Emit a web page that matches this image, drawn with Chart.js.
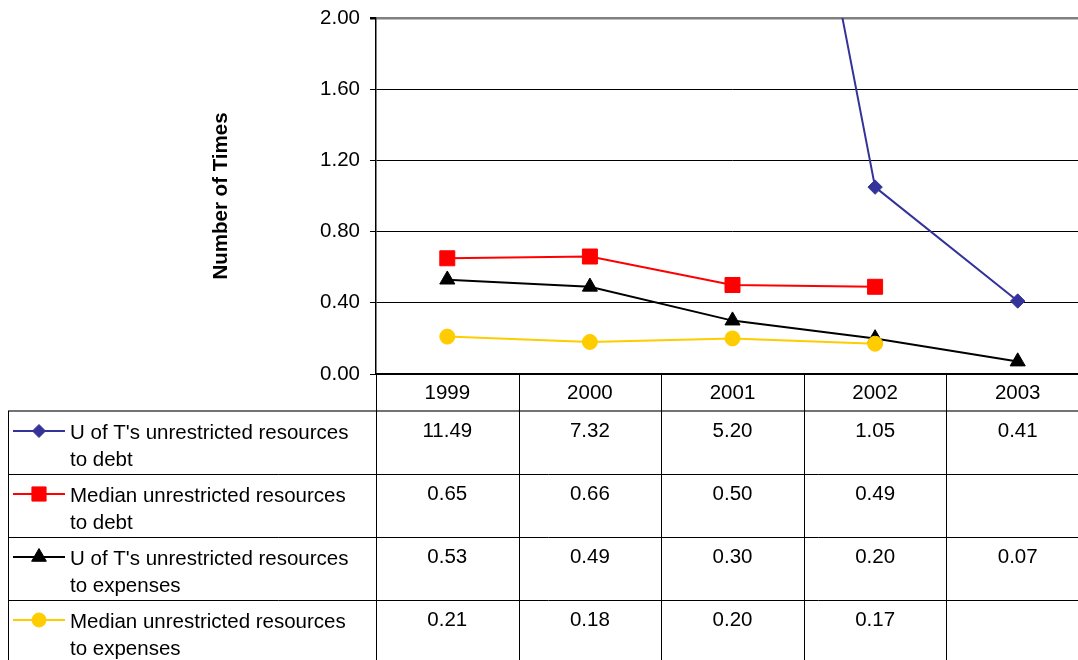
<!DOCTYPE html>
<html>
<head>
<meta charset="utf-8">
<script src="https://cdn.jsdelivr.net/npm/chart.js@4/dist/chart.umd.min.js"></script>
<style>
html, body { margin: 0; padding: 0; overflow: hidden; background: #fff; }
canvas { display: block; }
</style>
</head>
<body>
<canvas id="myChart" width="1089" height="660"></canvas>
<script>
var YEARS = ["1999", "2000", "2001", "2002", "2003"];
var UT_DEBT = [11.49, 7.32, 5.20, 1.05, 0.41];
var MEDIAN_DEBT = [0.65, 0.66, 0.50, 0.49, null];
var UT_EXPENSES = [0.53, 0.49, 0.30, 0.20, 0.07];
var MEDIAN_EXPENSES = [0.21, 0.18, 0.20, 0.17, null];
var Y_TICKS = [0, 0.4, 0.8, 1.2, 1.6, 2.0];

var NAMES = [
	["U of T's unrestricted resources", "to debt"],
	["Median unrestricted resources", "to debt"],
	["U of T's unrestricted resources", "to expenses"],
	["Median unrestricted resources", "to expenses"]
];

var FONT = '"Liberation Sans", Arial, sans-serif';
var FONT_SIZE = 20.5;

// table geometry (below the plot)
var HEAD_TOP = 374;
var ROW_TOP = 411;
var ROW_H = 63;
var TABLE_LEFT = 8;

function marker(ctx, style, radius, x, y) {
	if (Chart.helpers && Chart.helpers.drawPoint) {
		Chart.helpers.drawPoint(ctx, {pointStyle: style, radius: radius, borderWidth: 1, rotation: 0}, x, y);
	}
}

function noPadding(scale) {
	scale.paddingTop = 0;
	scale.paddingBottom = 0;
	scale.paddingLeft = 0;
	scale.paddingRight = 0;
}

var tablePlugin = {
	id: "dataTable",
	afterDraw: function (chart) {
		var ctx = chart.ctx;
		var area = chart.chartArea;
		var xs = chart.scales.x;
		var W = chart.width, H = chart.height;
		var half = (xs.getPixelForValue(1) - xs.getPixelForValue(0)) / 2;
		var sets = chart.data.datasets;
		var i, j;

		ctx.save();
		// horizontal rules
		ctx.strokeStyle = "#444";
		ctx.lineWidth = 1.5;
		ctx.beginPath();
		ctx.moveTo(TABLE_LEFT, ROW_TOP);
		ctx.lineTo(W, ROW_TOP);
		ctx.stroke();
		ctx.strokeStyle = "#000";
		ctx.lineWidth = 1;
		ctx.beginPath();
		for (i = 1; i < sets.length; i++) {
			var yy = Math.round(ROW_TOP + i * ROW_H) + 0.5;
			ctx.moveTo(TABLE_LEFT, yy);
			ctx.lineTo(W, yy);
		}
		// vertical rules
		ctx.moveTo(TABLE_LEFT + 0.5, ROW_TOP);
		ctx.lineTo(TABLE_LEFT + 0.5, H);
		ctx.moveTo(Math.round(area.left) + 0.5, HEAD_TOP);
		ctx.lineTo(Math.round(area.left) + 0.5, H);
		for (i = 0; i < YEARS.length; i++) {
			var ex = Math.round(xs.getPixelForValue(i) + half) + 0.5;
			ctx.moveTo(ex, HEAD_TOP);
			ctx.lineTo(ex, H);
		}
		ctx.stroke();

		// years
		ctx.fillStyle = "#000";
		ctx.font = FONT_SIZE + "px " + FONT;
		ctx.textAlign = "center";
		ctx.textBaseline = "alphabetic";
		for (i = 0; i < YEARS.length; i++) {
			ctx.fillText(chart.data.labels[i], xs.getPixelForValue(i), 399);
		}

		// rows
		for (j = 0; j < sets.length; j++) {
			var ds = sets[j];
			var top = ROW_TOP + j * ROW_H;
			ctx.textAlign = "center";
			ctx.fillStyle = "#000";
			for (i = 0; i < ds.data.length; i++) {
				if (ds.data[i] === null) continue;
				ctx.fillText(ds.data[i].toFixed(2), xs.getPixelForValue(i), top + 26);
			}
			ctx.textAlign = "left";
			ctx.fillText(NAMES[j][0], 70, top + 28);
			ctx.fillText(NAMES[j][1], 70, top + 55);

			// legend key
			ctx.strokeStyle = ds.borderColor;
			ctx.lineWidth = 2;
			ctx.beginPath();
			ctx.moveTo(13, top + 20);
			ctx.lineTo(65, top + 20);
			ctx.stroke();
			ctx.fillStyle = ds.pointBackgroundColor;
			ctx.strokeStyle = ds.pointBorderColor;
			ctx.lineWidth = 1;
			marker(ctx, ds.pointStyle, ds.legendRadius, 39, top + 20);
		}
		ctx.restore();
	}
};

function series(data, color, style, radius, legendRadius, order) {
	return {
		data: data,
		borderColor: color,
		backgroundColor: color,
		pointBackgroundColor: color,
		pointBorderColor: color,
		pointStyle: style,
		pointRadius: radius,
		pointBorderWidth: 1,
		borderWidth: 2,
		lineTension: 0,
		fill: false,
		spanGaps: false,
		order: order,
		legendRadius: legendRadius
	};
}

var ctx = document.getElementById("myChart");
var myChart = new Chart(ctx, {
	type: "line",
	data: {
		labels: YEARS,
		datasets: [
			series(UT_DEBT, "#333399", "rectRot", 7.2, 6.5, 4),
			series(MEDIAN_DEBT, "#FF0000", "rect", 10.6, 10, 3),
			series(UT_EXPENSES, "#000000", "triangle", 8.7, 8.5, 2),
			series(MEDIAN_EXPENSES, "#FFCC00", "circle", 7.5, 7, 1)
		]
	},
	options: {
		responsive: false,
		animation: false,
		layout: {autoPadding: false, padding: {left: 200, top: 18, right: 0, bottom: 0}},
		plugins: {legend: {display: false}, tooltip: {enabled: false}},
		scales: {
			x: {
				offset: true,
				grid: {display: false},
				border: {display: true, color: "#000", width: 2},
				ticks: {display: false},
				afterFit: function (scale) {
					noPadding(scale);
					scale.height = 660 - HEAD_TOP;
				}
			},
			y: {
				min: 0,
				max: 2,
				afterBuildTicks: function (scale) {
					scale.ticks = Y_TICKS.map(function (v) { return {value: v}; });
				},
				afterFit: function (scale) {
					noPadding(scale);
					scale.width = 176;
				},
				grid: {
					color: function (c) { return c.tick && c.tick.value === 2 ? "#808080" : "#000"; },
					lineWidth: function (c) { return c.tick && c.tick.value === 2 ? 2.5 : 1; },
					tickColor: "#000",
					tickLength: 6
				},
				border: {display: true, color: "#000", width: 1.5},
				ticks: {
					color: "#000",
					padding: 10,
					font: {family: FONT, size: FONT_SIZE},
					callback: function (v) { return Number(v).toFixed(2); }
				},
				title: {
					display: true,
					text: "Number of Times",
					color: "#000",
					padding: {top: 8.7, bottom: 0},
					font: {family: FONT, size: FONT_SIZE, weight: "bold"}
				}
			}
		}
	},
	plugins: [tablePlugin]
});
</script>
</body>
</html>
